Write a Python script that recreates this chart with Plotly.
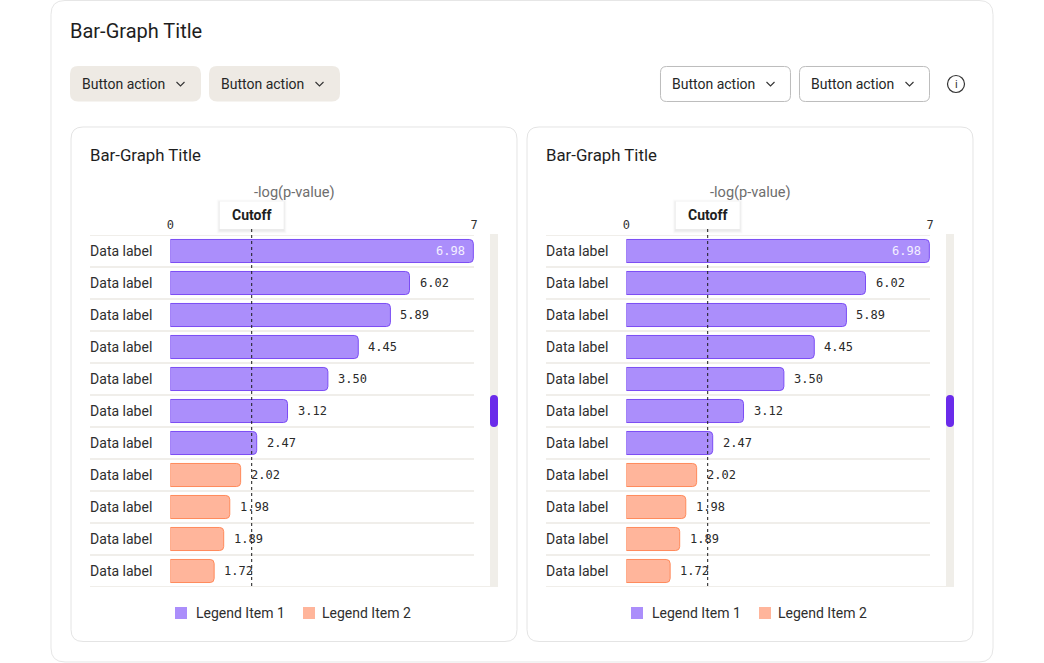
import plotly.graph_objects as go

W, H = 1044, 663

# bar lengths as drawn in the mockup, and the printed values next to them
bar_len = [6.98, 5.51, 5.07, 4.33, 3.63, 2.70, 1.99, 1.62, 1.37, 1.23, 1.01]
value_text = ['6.98', '6.02', '5.89', '4.45', '3.50', '3.12', '2.47', '2.02', '1.98', '1.89', '1.72']
group = [1, 1, 1, 1, 1, 1, 1, 2, 2, 2, 2]
row_labels = ['Data label'] * 11
x_ticks = [0, 7]
cutoff = 1.875

legend_names = {1: 'Legend Item 1', 2: 'Legend Item 2'}
fill = {1: '#AB8EFB', 2: '#FFB59B'}
edge = {1: '#7B4DF4', 2: '#FF8A5B'}

FONT = 'Roboto'
MONO = 'DejaVu Sans Mono'


def px(x):
    return x / W


def py(y):
    return 1 - y / H


def rrect(x0, y0, x1, y1, r):
    # rounded rectangle path in paper coords, inputs in pixels
    pts = [
        ('M', x0 + r, y0), ('L', x1 - r, y0), ('Q', x1, y0, x1, y0 + r),
        ('L', x1, y1 - r), ('Q', x1, y1, x1 - r, y1), ('L', x0 + r, y1),
        ('Q', x0, y1, x0, y1 - r), ('L', x0, y0 + r), ('Q', x0, y0, x0 + r, y0),
    ]
    out = ''
    for p in pts:
        cmd, vals = p[0], p[1:]
        coords = []
        for i in range(0, len(vals), 2):
            coords.append(f'{px(vals[i]):.5f},{py(vals[i + 1]):.5f}')
        out += cmd + ' '.join(coords) + ' '
    return out + 'Z'


def label(text, x, y, size, color='#262626', anchor='left'):
    # paper-positioned text, x/y in pixels
    return dict(text=text, x=px(x), y=py(y), xref='paper', yref='paper', showarrow=False,
                xanchor=anchor, yanchor='middle', borderpad=0, borderwidth=0,
                font=dict(family=FONT, size=size, color=color))


shapes = []
annotations = []

# outer card
shapes.append(dict(type='path', path=rrect(51, 0.5, 993, 662, 14), xref='paper', yref='paper',
                   line=dict(color='#E6E6E6', width=1), fillcolor='white', layer='below'))
annotations.append(label('Bar-Graph Title', 70, 31, 20, '#1E1E1E'))


def chevron(cx, cy):
    return dict(type='path', xref='paper', yref='paper', layer='above',
                path=f'M{px(cx - 4):.5f},{py(cy - 2):.5f} L{px(cx):.5f},{py(cy + 2):.5f} L{px(cx + 4):.5f},{py(cy - 2):.5f}',
                line=dict(color='#333333', width=1.1))


buttons = [(70, 201, 'filled'), (209, 340, 'filled'), (660, 791, 'outline'), (799, 930, 'outline')]
for bx0, bx1, kind in buttons:
    if kind == 'filled':
        shapes.append(dict(type='path', path=rrect(bx0, 66, bx1, 101.5, 8), xref='paper', yref='paper',
                           line=dict(width=0), fillcolor='#EEEAE4', layer='below'))
    else:
        shapes.append(dict(type='path', path=rrect(bx0 + 0.5, 66.5, bx1 - 0.5, 101.5, 6), xref='paper', yref='paper',
                           line=dict(color='#BDBDBD', width=1), fillcolor='white', layer='below'))
    annotations.append(label('Button action', bx0 + 12, 84, 14))
    shapes.append(chevron(bx1 - 20.5, 84))

# info icon
shapes.append(dict(type='circle', xref='paper', yref='paper', x0=px(947.5), x1=px(964.5), y0=py(75.5), y1=py(92.5),
                   line=dict(color='#333333', width=1.2)))
annotations.append(label('i', 956, 84.5, 11, '#333333', 'center'))

fig = go.Figure()

rows = list(range(len(bar_len)))
panels = [(0, 'x', 'y'), (456, 'x2', 'y2')]

for off, xa, ya in panels:
    # panel card
    shapes.append(dict(type='path', path=rrect(71 + off, 127, 517 + off, 641.5, 12), xref='paper', yref='paper',
                       line=dict(color='#E4E4E4', width=1), fillcolor='white', layer='below'))
    annotations.append(label('Bar-Graph Title', 90 + off, 155, 16.8, '#1E1E1E'))
    annotations.append(label('-log(p-value)', 294 + off, 192, 14.6, '#6E6E6E', 'center'))

    # row separators
    for k in range(len(bar_len) + 1):
        right = 498 if k == len(bar_len) else 474
        shapes.append(dict(type='line', xref='paper', yref=ya, x0=px(90 + off), x1=px(right + off),
                           y0=k - 0.5, y1=k - 0.5, line=dict(color='#F0EEEA', width=2), layer='below'))

    # scrollbar
    shapes.append(dict(type='rect', xref='paper', yref='paper', x0=px(490 + off), x1=px(498 + off),
                       y0=py(234), y1=py(587), fillcolor='#F0EEE9', line=dict(width=0), layer='below'))
    shapes.append(dict(type='path', path=rrect(490 + off, 395, 498 + off, 427, 4), xref='paper', yref='paper',
                       fillcolor='#6A2BEA', line=dict(width=0), layer='above'))

    # bars
    for g in (1, 2):
        idx = [i for i in rows if group[i] == g]
        fig.add_trace(go.Bar(
            x=[bar_len[i] for i in idx], y=idx, orientation='h', width=0.72,
            name=legend_names[g], showlegend=False, xaxis=xa, yaxis=ya,
            marker=dict(color=fill[g], line=dict(color=edge[g], width=1), cornerradius=4),
            hoverinfo='skip',
        ))

    # value labels
    for i in rows:
        inside = bar_len[i] > 6.3
        annotations.append(dict(
            text=value_text[i], x=bar_len[i], y=i, xref=xa, yref=ya, showarrow=False,
            xanchor='right' if inside else 'left', yanchor='middle', borderpad=0, borderwidth=0,
            xshift=-8 if inside else 10,
            font=dict(family=MONO, size=12, color='#F4F0FF' if inside else '#2A2A2A'),
        ))

    # cutoff marker
    shapes.append(dict(type='line', xref=xa, yref='paper', x0=cutoff, x1=cutoff, y0=py(229), y1=py(587),
                       line=dict(color='#1A1A1A', width=1, dash='dot'), layer='above'))
    for grow, alpha in ((3, 0.015), (2, 0.025), (1, 0.04)):
        shapes.append(dict(type='rect', xref=xa, yref='paper', xsizemode='pixel', xanchor=cutoff,
                           x0=-32 - grow, x1=32 + grow, y0=py(229.5 + grow + 1), y1=py(201.5 - grow + 1),
                           fillcolor=f'rgba(0,0,0,{alpha})', line=dict(width=0), layer='above'))
    shapes.append(dict(type='rect', xref=xa, yref='paper', xsizemode='pixel', xanchor=cutoff,
                       x0=-32, x1=32, y0=py(229), y1=py(201.5),
                       fillcolor='white', line=dict(width=0), layer='above'))
    annotations.append(dict(text='<b>Cutoff</b>', x=cutoff, y=py(215.5), xref=xa, yref='paper', showarrow=False,
                            xanchor='center', yanchor='middle',
                            font=dict(family=FONT, size=14, color='#1E1E1E')))

    # legend, one per panel
    for g, (sx, tx) in zip((1, 2), ((175, 196), (303, 322))):
        shapes.append(dict(type='rect', xref='paper', yref='paper', x0=px(sx + off), x1=px(sx + 12 + off),
                           y0=py(619), y1=py(607), fillcolor=fill[g], line=dict(width=0)))
        annotations.append(label(legend_names[g], tx + off, 613, 14, '#2E2E2E'))

xcommon = dict(range=[0, 7], side='top', tickvals=x_ticks, ticktext=[str(t) for t in x_ticks],
               showgrid=False, zeroline=False, showline=False, ticks='', automargin=False,
               ticklabelstandoff=3,
               tickfont=dict(family=MONO, size=12, color='#333333'), fixedrange=True)
ycommon = dict(range=[len(bar_len) - 0.5, -0.5], tickvals=rows, ticktext=row_labels,
               showgrid=False, zeroline=False, showline=False, ticks='', ticklabelstandoff=17,
               tickfont=dict(family=FONT, size=14, color='#2E2E2E'), fixedrange=True, automargin=False,
               domain=[py(587), py(235)])

fig.update_layout(
    width=W, height=H,
    margin=dict(l=0, r=0, t=0, b=0, autoexpand=False),
    paper_bgcolor='white', plot_bgcolor='rgba(0,0,0,0)',
    barmode='overlay', showlegend=False,
    xaxis=dict(domain=[px(170.3), px(474.2)], anchor='y', **xcommon),
    yaxis=dict(anchor='x', **ycommon),
    xaxis2=dict(domain=[px(626.3), px(930.2)], anchor='y2', **xcommon),
    yaxis2=dict(anchor='x2', **ycommon),
    shapes=shapes,
    annotations=annotations,
)

# drop the default page margin and scrollbars so the 1044x663 figure fills the window exactly
page_fix = ("document.documentElement.style.overflow='hidden';"
            "document.body.style.margin='0';document.body.style.overflow='hidden';")
fig.write_html("out.html", post_script=page_fix, config={'displayModeBar': False})
